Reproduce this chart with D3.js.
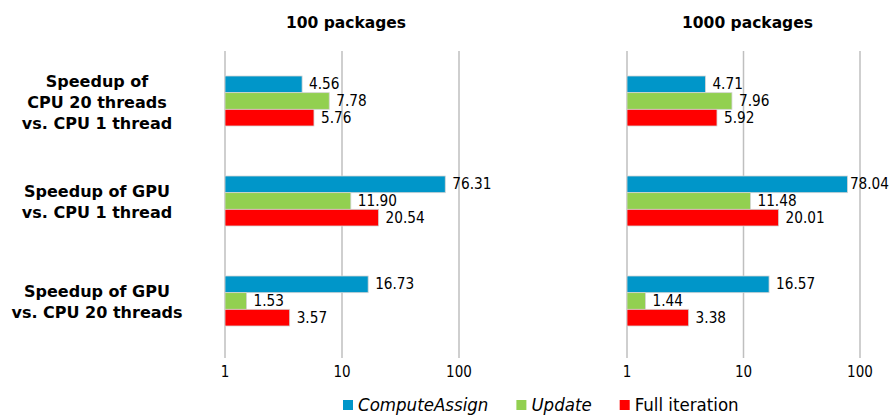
<!DOCTYPE html>
<html>
<head>
<meta charset="utf-8">
<script src="https://cdn.jsdelivr.net/npm/d3@7"></script>
<style>
  body { margin: 0; background: #fff; }
  text { font-family: "DejaVu Sans Condensed", "Liberation Sans", sans-serif; font-stretch: condensed; fill: #000; }
  text.bold { font-family: "DejaVu Sans", Verdana, sans-serif; font-stretch: normal; font-weight: bold; }
</style>
</head>
<body>
<div id="chart"></div>
<script>
// rows of the chart, each label split in lines
const categories = [
  ["Speedup of", "CPU 20 threads", "vs. CPU 1 thread"],
  ["Speedup of GPU", "vs. CPU 1 thread"],
  ["Speedup of GPU", "vs. CPU 20 threads"]
];
const panels = ["100 packages", "1000 packages"];
const seriesNames = ["ComputeAssign", "Update", "Full iteration"];
const tickValues = [1, 10, 100];

// values per panel (100 packages / 1000 packages)
const computeAssign100 = [4.56, 76.31, 16.73];
const update100 = [7.78, 11.90, 1.53];
const full100 = [5.76, 20.54, 3.57];
const computeAssign1000 = [4.71, 78.04, 16.57];
const update1000 = [7.96, 11.48, 1.44];
const full1000 = [5.92, 20.01, 3.38];

const colors = ["#0096c9", "#92d050", "#ff0000"];
const italic = [true, true, false];

const width = 891, height = 417;
const plotTop = 51, plotBottom = 351;

const svg = d3.select("#chart").append("svg")
    .attr("width", width)
    .attr("height", height);

const rowIds = categories.map((c, i) => i);

// band for each row, 100px step, bars use the middle half
const y = d3.scaleBand()
    .domain(rowIds)
    .range([plotTop, plotBottom])
    .paddingInner(0.5)
    .paddingOuter(0.25);

const ySub = d3.scaleBand()
    .domain([0, 1, 2])
    .range([0, y.bandwidth()]);

const panelData = [
  { title: panels[0], range: [225, 459], series: [computeAssign100, update100, full100] },
  { title: panels[1], range: [627, 860], series: [computeAssign1000, update1000, full1000] }
];

const fmt = d3.format(".2f");

// category labels on the left
categories.forEach((lines, i) => {
  const cy = y(i) + y.bandwidth() / 2 + 1;
  const t = svg.append("text")
      .attr("class", "bold")
      .attr("text-anchor", "middle")
      .style("font-size", "16px");
  lines.forEach((line, j) => {
    t.append("tspan")
        .attr("x", 97)
        .attr("y", cy + (j - (lines.length - 1) / 2) * 21 + 5.8)
        .text(line);
  });
});

panelData.forEach(p => {
  const x = d3.scaleLog()
      .domain([1, 100])
      .range(p.range);

  const g = svg.append("g");

  // grid lines (the one at 1 acts as axis)
  g.selectAll(".grid")
    .data(tickValues)
    .join("line")
      .attr("class", "grid")
      .attr("x1", d => x(d))
      .attr("x2", d => x(d))
      .attr("y1", plotTop)
      .attr("y2", 358)
      .attr("stroke", "#bfbfbf")
      .attr("stroke-width", 1.5);

  g.selectAll(".tick-label")
    .data(tickValues)
    .join("text")
      .attr("class", "tick-label")
      .attr("x", d => x(d))
      .attr("y", 377)
      .attr("text-anchor", "middle")
      .style("font-size", "15px")
      .text(d => d);

  svg.append("text")
      .attr("class", "bold")
      .attr("x", (p.range[0] + p.range[1]) / 2 + 4)
      .attr("y", 28)
      .attr("text-anchor", "middle")
      .style("font-size", "15.5px")
      .text(p.title);

  p.series.forEach((vals, s) => {
    const bars = g.selectAll(".bar-" + s)
      .data(vals)
      .join("g")
        .attr("class", "bar-" + s);

    bars.append("rect")
        .attr("x", x(1))
        .attr("y", (d, i) => y(i) + ySub(s))
        .attr("width", d => x(d) - x(1))
        .attr("height", ySub.bandwidth())
        .attr("fill", colors[s])
        .attr("stroke", "#d4d4d4")
        .attr("stroke-width", 0.8);

    bars.append("text")
        .attr("x", d => x(d) + 7)
        .attr("y", (d, i) => y(i) + ySub(s) + ySub.bandwidth() / 2)
        .attr("dominant-baseline", "central")
        .style("font-size", "15.2px")
        .text(d => fmt(d))
        .each(function() {
          // keep label inside the picture, like the original does
          const w = this.getComputedTextLength();
          const cur = +d3.select(this).attr("x");
          if (cur + w > width - 2) d3.select(this).attr("x", width - 2 - w);
        });
  });
});

// legend
let lx = 343;
seriesNames.forEach((name, i) => {
  svg.append("rect")
      .attr("x", lx)
      .attr("y", 400)
      .attr("width", 10)
      .attr("height", 10)
      .attr("fill", colors[i]);
  const t = svg.append("text")
      .attr("x", lx + 15)
      .attr("y", 411)
      .style("font-size", "18.5px")
      .style("font-style", italic[i] ? "italic" : "normal")
      .text(name);
  lx += 15 + t.node().getComputedTextLength() + 28;
});
</script>
</body>
</html>
